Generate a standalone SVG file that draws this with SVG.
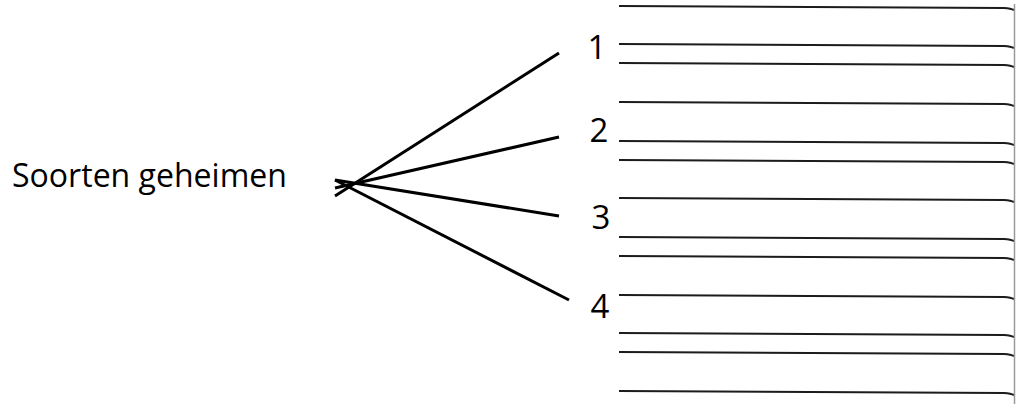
<svg xmlns="http://www.w3.org/2000/svg" width="1024" height="404" viewBox="0 0 1024 404">
<style>
.lbl{font-family:"Open Sans","Noto Sans",sans-serif;font-size:32px;fill:#000}
.num{font-family:"Open Sans","Noto Sans",sans-serif;font-size:33px;fill:#000;text-anchor:middle}
.fan{stroke:#000;stroke-width:3;fill:none;stroke-linecap:butt}
.rule{stroke:#1c1c1c;stroke-width:2;fill:none}
</style>
<rect width="1024" height="404" fill="#fff"/>
<g id="root-node">
<text class="lbl" x="12" y="187" textLength="275" lengthAdjust="spacingAndGlyphs">Soorten geheimen</text>
</g>
<g id="connectors">
<line class="fan" x1="335" y1="196" x2="559" y2="53"/>
<line class="fan" x1="335" y1="188" x2="559" y2="137"/>
<line class="fan" x1="335" y1="180" x2="559" y2="216"/>
<line class="fan" x1="335" y1="180" x2="569" y2="300"/>
</g>
<g id="node-1"><text class="num" x="597" y="59">1</text></g>
<g id="node-2"><text class="num" x="599" y="142">2</text></g>
<g id="node-3"><text class="num" x="601" y="229">3</text></g>
<g id="node-4"><text class="num" x="600" y="318">4</text></g>
<g id="writing-lines">
<path class="rule" d="M619,6 L1004,8 Q1011,8.5 1014,10"/>
<path class="rule" d="M619,44 L1004,46 Q1011,46.5 1014,48"/>
<path class="rule" d="M619,63 L1004,65 Q1011,65.5 1014,67"/>
<path class="rule" d="M619,102 L1004,104 Q1011,104.5 1014,106"/>
<path class="rule" d="M619,141 L1004,143 Q1011,143.5 1014,145"/>
<path class="rule" d="M619,160 L1004,162 Q1011,162.5 1014,164"/>
<path class="rule" d="M619,198 L1004,200 Q1011,200.5 1014,202"/>
<path class="rule" d="M619,237 L1004,239 Q1011,239.5 1014,241"/>
<path class="rule" d="M619,256 L1004,258 Q1011,258.5 1014,260"/>
<path class="rule" d="M619,295 L1004,297 Q1011,297.5 1014,299"/>
<path class="rule" d="M619,333 L1004,335 Q1011,335.5 1014,337"/>
<path class="rule" d="M619,352 L1004,354 Q1011,354.5 1014,356"/>
<path class="rule" d="M619,391 L1004,393 Q1011,393.5 1014,395"/>
<line x1="1014.5" y1="4" x2="1014.5" y2="404" stroke="#9a9a9a" stroke-width="1.5"/>
</g>
</svg>
